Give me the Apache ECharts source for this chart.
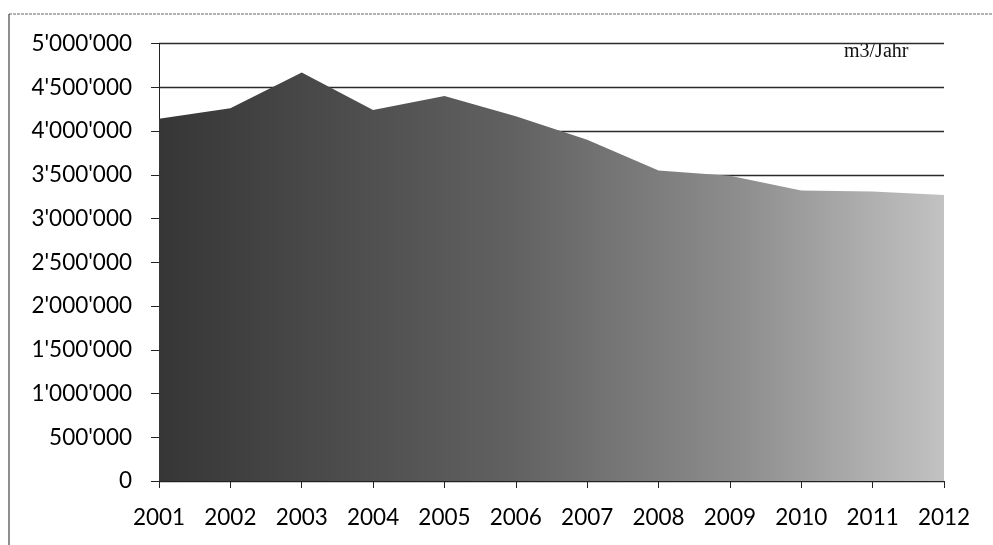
<!DOCTYPE html>
<html>
<head>
<meta charset="utf-8">
<script src="https://cdn.jsdelivr.net/npm/echarts@6/dist/echarts.min.js"></script>
<style>
html,body{margin:0;padding:0;background:#fff;}
#chart{width:993px;height:545px;}
</style>
</head>
<body>
<div id="chart"></div>
<script>
const years = ['2001','2002','2003','2004','2005','2006','2007','2008','2009','2010','2011','2012'];
const volumes = [4140000, 4260000, 4670000, 4240000, 4400000, 4170000, 3900000, 3550000, 3490000, 3320000, 3310000, 3270000];
const unitLabel = 'm3/Jahr';
const yMin = 0, yMax = 5000000, yStep = 500000;

function fmt(v){ return String(v).replace(/\B(?=(\d{3})+(?!\d))/g, "'"); }

const chart = echarts.init(document.getElementById('chart'), null, {renderer:'canvas'});
chart.setOption({
  animation:false,
  backgroundColor:'#ffffff',
  grid:{left:159, right:49, top:43.5, bottom:64, containLabel:false},
  xAxis:{
    type:'category', data:years, boundaryGap:false,
    axisLine:{show:true, lineStyle:{color:'#222', width:1}},
    axisTick:{show:true, inside:false, length:7, alignWithLabel:true, lineStyle:{color:'#222'}},
    axisLabel:{color:'#000', fontFamily:'Lato', fontSize:22.5, margin:25},
    splitLine:{show:false}
  },
  yAxis:{
    type:'value', min:yMin, max:yMax, interval:yStep,
    axisLine:{show:true, lineStyle:{color:'#222', width:1}},
    axisTick:{show:true, length:8, lineStyle:{color:'#222'}},
    axisLabel:{color:'#000', fontFamily:'Lato', fontSize:22.5, margin:27, formatter:fmt},
    splitLine:{show:true, lineStyle:{color:'#2a2a2a', width:1.3}}
  },
  series:[{
    type:'line', data:volumes, symbol:'none', smooth:false,
    lineStyle:{width:0},
    areaStyle:{opacity:1, color:new echarts.graphic.LinearGradient(0,0,1,0,[
      {offset:0, color:'#363636'},
      {offset:0.45, color:'#616161'},
      {offset:0.75, color:'#8f8f8f'},
      {offset:1, color:'#c2c2c2'}
    ])}
  }],
  graphic:[
    {type:'line', shape:{x1:9,y1:14,x2:993,y2:14}, style:{stroke:'#666', lineWidth:1, lineDash:[3,1]}},
    {type:'line', shape:{x1:9,y1:14,x2:9,y2:545}, style:{stroke:'#444', lineWidth:1.2}},
    {type:'rect', shape:{x:822,y:32,width:124,height:26}, style:{fill:'#ffffff'}},
    {type:'text', x:844, y:52, style:{text:unitLabel, fontFamily:'Liberation Serif', fontSize:20, fill:'#111', verticalAlign:'middle', align:'left'}}
  ]
});
</script>
</body>
</html>
